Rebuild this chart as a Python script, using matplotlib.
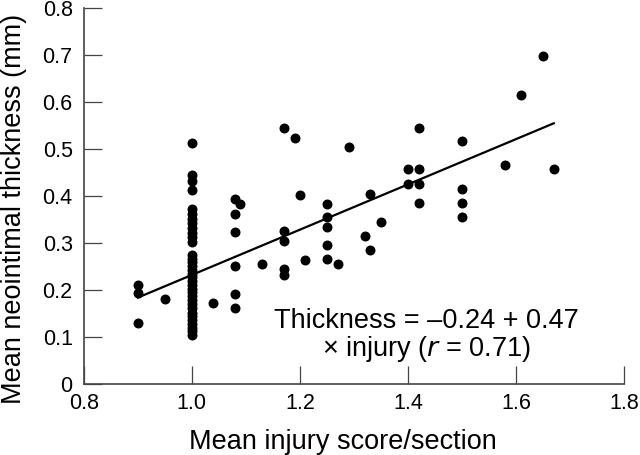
import matplotlib
matplotlib.use('Agg')
from matplotlib import pyplot as plt

plt.rcParams['font.family'] = ['Liberation Sans', 'DejaVu Sans']

# injury score (x) and neointimal thickness (y)
col_100 = [0.513, 0.445, 0.432, 0.414,
           0.372, 0.362, 0.352, 0.342, 0.332, 0.322, 0.312, 0.302,
           0.275, 0.267, 0.259, 0.251, 0.243, 0.235, 0.227, 0.219, 0.211,
           0.203, 0.195, 0.187, 0.179, 0.170, 0.162, 0.152, 0.144, 0.136,
           0.128, 0.120, 0.112, 0.104]
injury = ([0.90, 0.90, 0.90, 0.95] + [1.00] * len(col_100) +
          [1.04, 1.08, 1.08, 1.08, 1.08, 1.08, 1.08, 1.09, 1.13,
           1.17, 1.17, 1.17, 1.17, 1.17, 1.19, 1.20, 1.21,
           1.25, 1.25, 1.25, 1.25, 1.25, 1.27, 1.29, 1.32, 1.33, 1.33, 1.35,
           1.40, 1.40, 1.42, 1.42, 1.42, 1.42,
           1.50, 1.50, 1.50, 1.50, 1.58, 1.61, 1.65, 1.67])
thickness = ([0.211, 0.193, 0.130, 0.181] + col_100 +
             [0.173, 0.394, 0.362, 0.323, 0.252, 0.192, 0.161, 0.383, 0.255,
              0.545, 0.325, 0.305, 0.245, 0.233, 0.524, 0.403, 0.264,
              0.383, 0.356, 0.334, 0.295, 0.266, 0.255, 0.505, 0.316, 0.404, 0.285, 0.345,
              0.457, 0.426, 0.546, 0.457, 0.426, 0.385,
              0.518, 0.416, 0.385, 0.356, 0.467, 0.616, 0.699, 0.457])

# regression line as drawn
fit_x = [0.90, 1.67]
fit_y = [0.184, 0.555]

fig = plt.figure(figsize=(6.4, 4.55), dpi=100)
ax = fig.add_axes([0.131, 0.156, 0.844, 0.826])

ax.scatter(injury, thickness, s=38, color='black', zorder=3)
ax.plot(fit_x, fit_y, color='black', lw=1.6)

ax.set_xlim(0.8, 1.8)
ax.set_ylim(0, 0.8)
ax.set_xticks([0.8, 1.0, 1.2, 1.4, 1.6, 1.8])
ax.set_xticklabels(['0.8', '1.0', '1.2', '1.4', '1.6', '1.8'])
ax.set_yticks([0, 0.1, 0.2, 0.3, 0.4, 0.5, 0.6, 0.7, 0.8])
ax.set_yticklabels(['0', '0.1', '0.2', '0.3', '0.4', '0.5', '0.6', '0.7', '0.8'])

for side in ['top', 'right']:
    ax.spines[side].set_visible(False)
for side in ['left', 'bottom']:
    ax.spines[side].set_color('#444444')
    ax.spines[side].set_linewidth(1.2)

ax.tick_params(direction='in', length=13, width=0.9, color='#444444',
               labelsize=15.5)
ax.tick_params(axis='x', pad=6.5)
ax.tick_params(axis='y', pad=8)

ax.set_xlabel('Mean injury score/section', fontsize=19.5, va='center')
ax.set_ylabel('Mean neointimal thickness (mm)', fontsize=19.5, va='center')
ax.xaxis.set_label_coords(0.48, -0.155)
ax.yaxis.set_label_coords(-0.129, 0.465)

ax.text(0.635, 0.128, 'Thickness = \u20130.24 + 0.47\n\u00d7 injury ($\\it{r}$ = 0.71)',
        transform=ax.transAxes, ha='center', va='center', fontsize=19.5,
        multialignment='center', linespacing=1.0)

plt.savefig('out.png', dpi=100)
